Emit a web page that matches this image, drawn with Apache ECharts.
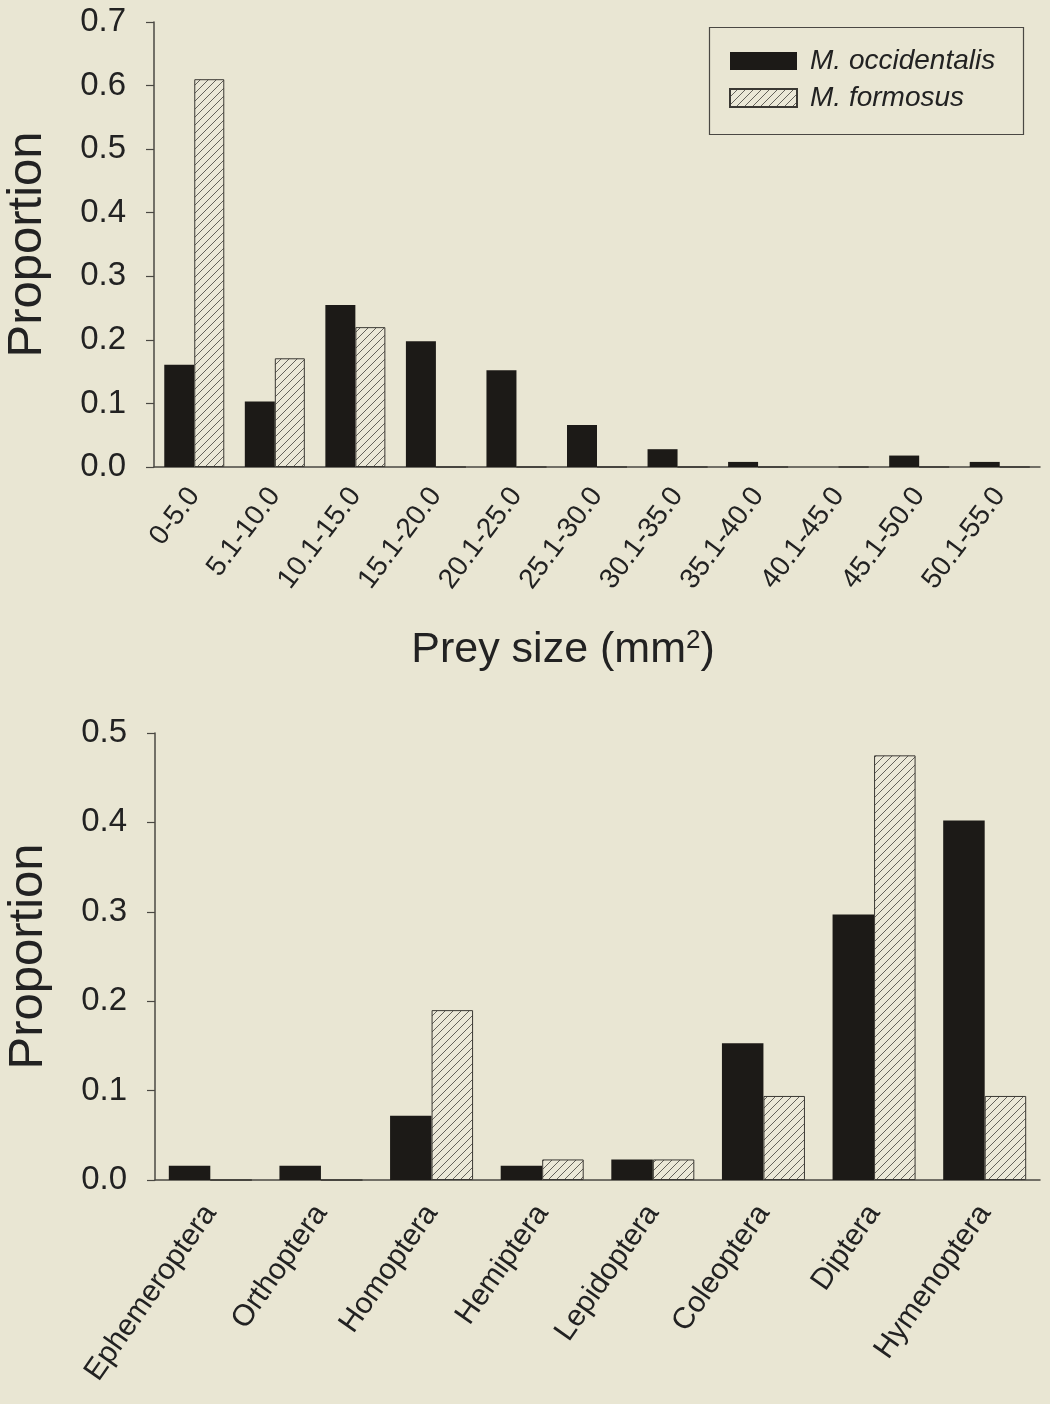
<!DOCTYPE html>
<html>
<head>
<meta charset="utf-8">
<script src="https://cdn.jsdelivr.net/npm/echarts@6/dist/echarts.min.js"></script>
<style>
html,body{margin:0;padding:0;background:#e9e6d3;}
#chart{width:1050px;height:1404px;}
</style>
</head>
<body>
<div id="chart"></div>
<script>
// ---- data ----
var sizeCategories = ['0-5.0','5.1-10.0','10.1-15.0','15.1-20.0','20.1-25.0','25.1-30.0','30.1-35.0','35.1-40.0','40.1-45.0','45.1-50.0','50.1-55.0'];
var sizeOccidentalis = [0.161, 0.103, 0.255, 0.198, 0.152, 0.066, 0.028, 0.008, 0, 0.018, 0.008];
var sizeFormosus = [0.61, 0.171, 0.22, 0, 0, 0, 0, 0, 0, 0, 0];
var sizeTicks = ['0.0','0.1','0.2','0.3','0.4','0.5','0.6','0.7'];

var taxaCategories = ['Ephemeroptera','Orthoptera','Homoptera','Hemiptera','Lepidoptera','Coleoptera','Diptera','Hymenoptera'];
var taxaOccidentalis = [0.016, 0.016, 0.072, 0.016, 0.023, 0.153, 0.297, 0.402];
var taxaFormosus = [0, 0, 0.19, 0.023, 0.023, 0.094, 0.475, 0.094];
var taxaTicks = ['0.0','0.1','0.2','0.3','0.4','0.5'];

var seriesNames = ['M. occidentalis', 'M. formosus'];

// ---- styles ----
var BG = '#e9e6d3';
var DARK = '#1c1a17';
var AXIS = '#4a4843';
var TXT = '#222222';
var FONT = '"Liberation Sans", Arial, Helvetica, sans-serif';

function hatch() {
  var s = 8;
  var c = document.createElement('canvas');
  c.width = s; c.height = s;
  var g = c.getContext('2d');
  g.fillStyle = '#ebe8d7';
  g.fillRect(0, 0, s, s);
  g.strokeStyle = '#55524c';
  g.lineWidth = 0.9;
  g.beginPath();
  g.moveTo(0, s); g.lineTo(s, 0);
  g.moveTo(-1, 1); g.lineTo(1, -1);
  g.moveTo(s - 1, s + 1); g.lineTo(s + 1, s - 1);
  g.stroke();
  return c;
}
var hatchPattern = { image: hatch(), repeat: 'repeat' };

var chart = echarts.init(document.getElementById('chart'), null, { renderer: 'canvas' });

function xAxisCfg(idx, cats, fs, rot, margin) {
  return {
    type: 'category', gridIndex: idx, data: cats,
    axisLine: { lineStyle: { color: AXIS, width: 1.5 } },
    axisTick: { alignWithLabel: true, length: 8, lineStyle: { color: AXIS, width: 1.2 } },
    axisLabel: { rotate: rot, interval: 0, fontSize: fs, fontFamily: FONT, color: TXT, margin: margin }
  };
}
function yAxisCfg(idx, max, ticks) {
  return {
    type: 'value', gridIndex: idx, min: 0, max: max, interval: 0.1,
    name: 'Proportion', nameLocation: 'middle', nameRotate: 90, nameGap: 102,
    nameTextStyle: { fontSize: 49, fontFamily: FONT, color: TXT },
    splitLine: { show: false },
    axisLine: { show: true, lineStyle: { color: AXIS, width: 1.5 } },
    axisTick: { show: true, length: 8, lineStyle: { color: AXIS, width: 1.2 } },
    axisLabel: {
      fontSize: 33, fontFamily: FONT, color: TXT, margin: 28,
      formatter: function (v) { return ticks[Math.round(v * 10)]; }
    }
  };
}

function barSeries(name, xi, data, isHatch, w) {
  return {
    type: 'bar', name: name, xAxisIndex: xi, yAxisIndex: xi, data: data,
    barWidth: w, barGap: '0%',
    itemStyle: isHatch
      ? { color: hatchPattern, borderColor: '#3a3833', borderWidth: 1 }
      : { color: DARK, borderColor: DARK, borderWidth: 0 },
    emphasis: { disabled: true }
  };
}

chart.setOption({
  backgroundColor: BG,
  animation: false,
  grid: [
    { left: 154, right: 10, top: 22, height: 445, containLabel: false, outerBoundsMode: 'none' },
    { left: 155, right: 10, top: 733, height: 447, containLabel: false, outerBoundsMode: 'none' }
  ],
  xAxis: [
    xAxisCfg(0, sizeCategories, 28, 53, 24),
    xAxisCfg(1, taxaCategories, 30, 55, 28)
  ],
  yAxis: [
    yAxisCfg(0, 0.7, sizeTicks),
    yAxisCfg(1, 0.5, taxaTicks)
  ],
  legend: {
    orient: 'vertical', left: 724, top: 42,
    icon: 'rect',
    itemWidth: 67, itemHeight: 18, itemGap: 9,
    data: seriesNames,
    textStyle: { fontSize: 28, fontStyle: 'italic', fontFamily: FONT, color: TXT, padding: [0, 0, 0, 8] },
    selectedMode: false
  },
  graphic: [
    {
      type: 'rect', left: 707, top: 25, z: 0,
      shape: { width: 314, height: 107 },
      style: { fill: 'none', stroke: '#4a4843', lineWidth: 1.2 }
    },
    {
      type: 'text', x: 563, y: 650,
      style: {
        text: '{a|Prey size (mm}{s|2}{a|)}',
        align: 'center', verticalAlign: 'middle',
        rich: {
          a: { fontSize: 43, fontFamily: FONT, fill: TXT },
          s: { fontSize: 26, fontFamily: FONT, fill: TXT, verticalAlign: 'top', padding: [0, 0, 18, 0] }
        }
      }
    }
  ],
  series: [
    barSeries(seriesNames[0], 0, sizeOccidentalis, false, 30),
    barSeries(seriesNames[1], 0, sizeFormosus, true, 30),
    barSeries(seriesNames[0], 1, taxaOccidentalis, false, 41.5),
    barSeries(seriesNames[1], 1, taxaFormosus, true, 41.5)
  ]
});
</script>
</body>
</html>
